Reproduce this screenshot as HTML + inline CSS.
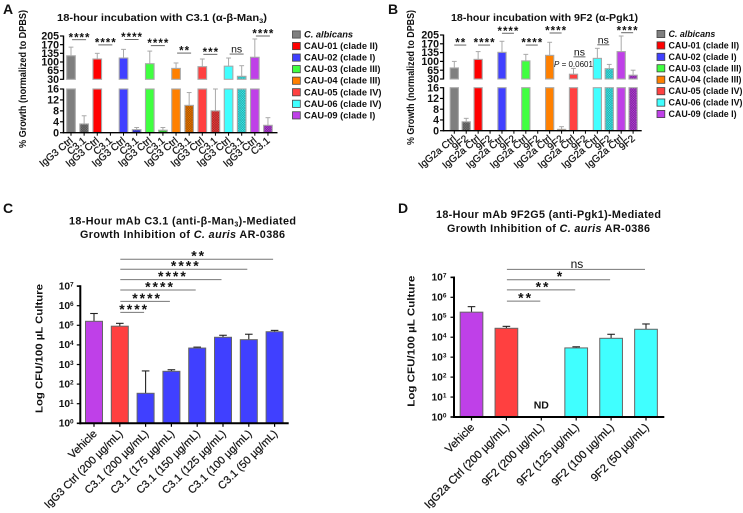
<!DOCTYPE html>
<html lang="en">
<head>
<meta charset="utf-8">
<title>Growth inhibition of C. auris by monoclonal antibodies</title>
<style>
html,body{margin:0;padding:0;background:#fff;}
#figure{display:block;width:743px;height:513px;filter:blur(0.35px);font-family:"Liberation Sans",sans-serif;}
text{font-family:"Liberation Sans",sans-serif;fill:#111;}
</style>
</head>
<body>
<svg id="figure" xmlns="http://www.w3.org/2000/svg" width="743" height="513" viewBox="0 0 743 513">
  <defs id="defs"></defs>
  <text x="3" y="14" font-size="14" font-weight="bold">A</text>
  <text x="388" y="14" font-size="14" font-weight="bold">B</text>
  <text x="3" y="213" font-size="14" font-weight="bold">C</text>
  <text x="398" y="213" font-size="14" font-weight="bold">D</text>

  <text x="57" y="21" font-size="9.8" font-weight="bold" textLength="210" lengthAdjust="spacingAndGlyphs">18-hour incubation with C3.1 (α-β-Man<tspan font-size="6.5" dy="2">3</tspan><tspan dy="-2">)</tspan></text>
  <text x="451" y="21" font-size="9.8" font-weight="bold" textLength="187" lengthAdjust="spacingAndGlyphs">18-hour incubation with 9F2 (α-Pgk1)</text>

  <text x="69" y="224.5" font-size="10.8" font-weight="bold" textLength="227" lengthAdjust="spacing">18-Hour mAb C3.1 (anti-β-Man<tspan font-size="7" dy="2">3</tspan><tspan dy="-2">)-Mediated</tspan></text>
  <text x="80" y="238" font-size="10.8" font-weight="bold" textLength="205" lengthAdjust="spacing">Growth Inhibition of <tspan font-style="italic">C. auris</tspan> AR-0386</text>
  <text x="436" y="218" font-size="10.8" font-weight="bold" textLength="225" lengthAdjust="spacing">18-Hour mAb 9F2G5 (anti-Pgk1)-Mediated</text>
  <text x="447" y="232" font-size="10.8" font-weight="bold" textLength="203" lengthAdjust="spacing">Growth Inhibition of <tspan font-style="italic">C. auris</tspan> AR-0386</text>

  <text transform="translate(26,148) rotate(-90)" font-size="10.5" textLength="138" lengthAdjust="spacingAndGlyphs" font-weight="bold" fill="#333">% Growth (normalized to DPBS)</text>
  <text transform="translate(414,145) rotate(-90)" font-size="10.5" textLength="135" lengthAdjust="spacingAndGlyphs" font-weight="bold" fill="#333">% Growth (normalized to DPBS)</text>
  <text transform="translate(42.5,413) rotate(-90)" font-size="10.5" textLength="129" lengthAdjust="spacingAndGlyphs" font-weight="bold">Log CFU/100 µL Culture</text>
  <text transform="translate(414.5,406.7) rotate(-90)" font-size="10.5" textLength="131" lengthAdjust="spacingAndGlyphs" font-weight="bold">Log CFU/100 µL Culture</text>

  <text x="554" y="67" font-size="8" fill="#222"><tspan font-style="italic">P</tspan> = 0.0601</text>
  <text x="541.3" y="408.5" font-size="10.5" font-weight="bold" text-anchor="middle">ND</text>
</svg>

<script>
/* ---------- data ---------- */
const strainNames = ['C. albicans','CAU-01 (clade II)','CAU-02 (clade I)','CAU-03 (clade III)','CAU-04 (clade III)','CAU-05 (clade IV)','CAU-06 (clade IV)','CAU-09 (clade I)'];
const strainColors = ['#7f7f7f','#ff0000','#4040ff','#40ff40','#ff8000','#ff4040','#40ffff','#bf40e8'];

const brokenTicksUpper = [30,65,100,135,170,205];
const brokenTicksLower = [0,4,8,12,16];

const ctrlLabelA = 'IgG3 Ctrl';
const mabLabelA = 'C3.1';
const ctrlValuesA = [125,112,116,93,74,81,83,119];
const ctrlErrTopA = [160,135,151,144,96,112,116,193];
const mabValuesA = [3.2,0,1.1,0.9,10,8,42,2.7];
const mabErrTopA = [6.2,0,1.9,1.9,14.7,16,85,5.5];
const sigLabelsA = ['****','****','****','****','**','***','ns','****'];
const sigLevelsA = [190,169,191,166,136,131,132,205];

const ctrlLabelB = 'IgG2a Ctrl';
const mabLabelB = '9F2';
const ctrlValuesB = [74,108,136,102,124,49,112,139];
const ctrlErrTopB = [100,139,180,128,176,72,152,201];
const mabValuesB = [3.3,0,0,0,0.5,0,71,45];
const mabErrTopB = [4.6,0,0,0,1.5,0,88,65];
const sigLabelsB = ['**','****','****','****','****','ns','ns','****'];
const sigLevelsB = [165,165,212,165,213,118,166,214];

const logTicks = [0,1,2,3,4,5,6,7];

const categoriesC = ['Vehicle','IgG3 Ctrl (200 µg/mL)','C3.1 (200 µg/mL)','C3.1 (175 µg/mL)','C3.1 (150 µg/mL)','C3.1 (125 µg/mL)','C3.1 (100 µg/mL)','C3.1 (50 µg/mL)'];
const colorIndexC = [7,5,2,2,2,2,2,2];
const valuesC = [160000,90000,34,450,6900,24500,18500,47000];
const errTopC = [400000,126000,470,540,7700,31000,35000,55000];
const sigLabelsC = ['****','****','****','****','****','**'];
const sigLevelsC = [5.66,6.22,6.8,7.33,7.86,8.37];

const categoriesD = ['Vehicle','IgG2a Ctrl (200 µg/mL)','9F2 (200 µg/mL)','9F2 (125 µg/mL)','9F2 (100 µg/mL)','9F2 (50 µg/mL)'];
const colorIndexD = [7,5,6,6,6,6];
const valuesD = [180000,28000,null,2900,8800,25000];
const errTopD = [340000,35000,null,3300,14000,46000];
const sigLabelsD = ['**','**','*','ns'];
const sigLevelsD = [5.81,6.37,6.88,7.4];

/* ---------- helpers ---------- */
const SVGNS = 'http://www.w3.org/2000/svg';
const svg = document.getElementById('figure');
const defs = document.getElementById('defs');

function slug(s){ return String(s).toLowerCase().replace(/[^a-z0-9]+/g,'-').replace(/^-|-$/g,''); }

function make(tag, parent, attrs, name){
  const el = document.createElementNS(SVGNS, tag);
  
  
  for (const k in attrs) el.setAttribute(k, attrs[k]);
  parent.appendChild(el);
  return el;
}
function line(parent, x1, y1, x2, y2, stroke, w, name){
  return make('line', parent, {x1:x1,y1:y1,x2:x2,y2:y2,stroke:stroke,'stroke-width':w}, name);
}
function label(parent, str, attrs, name){
  const t = make('text', parent, attrs, name);
  t.textContent = str;
  return t;
}
function hatch(color, i){
  const p = document.createElementNS(SVGNS,'pattern');
  p.setAttribute('id','hatch-'+i);
  p.setAttribute('width','2.4');
  p.setAttribute('height','2.4');
  p.setAttribute('patternUnits','userSpaceOnUse');
  p.innerHTML = '<rect width="2.4" height="2.4" fill="'+color+'"/><path d="M0 0L2.4 2.4M2.4 0L0 2.4" stroke="#000" stroke-opacity=".42" stroke-width=".55"/>';
  defs.appendChild(p);
}
strainColors.forEach(hatch);

function stars(parent, str, cx, lineY, size, spacing, gap, nameBase){
  if (str === 'ns') {
    return label(parent, 'ns', {x:cx,y:lineY-1.5,'font-size':size,'text-anchor':'middle',fill:'#333'}, nameBase+'-ns');
  }
  /* asterisk glyph centre sits about .46em above baseline in this face */
  return label(parent, str, {x:cx+spacing/2,y:lineY-gap+size*0.46,'font-size':size,'font-weight':'bold','text-anchor':'middle','letter-spacing':spacing,fill:'#333'}, nameBase+'-stars');
}

/* ---------- broken-axis panels A and B ---------- */
function drawBroken(p){
  const g = make('g', svg, {}, p.id+'-chart');
  const yVal = v => v > 16
    ? p.upBot - (v-30)*(p.upBot-p.upTop)/175
    : p.lowBot - v*(p.lowBot-p.lowTop)/16;
  const xOf = i => p.x0 + i*p.step;

  const drawBar = (i, val, errTop, fill, strokeCol, nm) => {
    const x = xOf(i)-p.barW/2;
    if (val > 16) {
      make('rect', g, {x:x,y:p.lowTop,width:p.barW,height:p.lowBot-p.lowTop,fill:fill,stroke:strokeCol,'stroke-width':1.1}, nm+'-lower');
      make('rect', g, {x:x,y:yVal(val),width:p.barW,height:p.upBot-yVal(val),fill:fill,stroke:strokeCol,'stroke-width':1.1}, nm+'-upper');
    } else if (val > 0) {
      make('rect', g, {x:x,y:yVal(val),width:p.barW,height:p.lowBot-yVal(val),fill:fill,stroke:strokeCol,'stroke-width':1.1}, nm);
    }
    if (errTop > val) {
      const c = xOf(i);
      line(g, c, yVal(val), c, yVal(errTop), '#a9a9a9', 1, nm+'-error-bar');
      line(g, c-2.4, yVal(errTop), c+2.4, yVal(errTop), '#a9a9a9', 1, nm+'-error-cap');
    }
  };

  p.ctrl.forEach((v,k) => {
    drawBar(2*k, v, p.ctrlErr[k], strainColors[k], '#a8a8a8', p.id+'-bar-ctrl-'+k);
    drawBar(2*k+1, p.mab[k], p.mabErr[k], 'url(#hatch-'+k+')', '#a8a8a8', p.id+'-bar-mab-'+k);
  });

  /* axes */
  line(g, p.axisX, p.upTop-.5, p.axisX, p.upBot+.5, '#000', 1.4, p.id+'-y-axis-upper');
  line(g, p.axisX, p.lowTop-.5, p.axisX, p.lowBot+.7, '#000', 1.4, p.id+'-y-axis-lower');
  line(g, p.axisX-.7, p.lowBot, p.axisEnd, p.lowBot, '#000', 1.4, p.id+'-x-axis');
  brokenTicksUpper.concat(brokenTicksLower).forEach((t,n) => {
    const yy = t === 30 ? p.upBot : yVal(t);
    line(g, p.axisX-3.5, yy, p.axisX, yy, '#000', 1.2, p.id+'-y-tick-'+t);
    label(g, t, {x:p.axisX-4.5,y:yy+3.6,'font-size':10.6,'font-weight':'bold','text-anchor':'end',fill:'#222'}, p.id+'-y-tick-label-'+t);
  });

  /* x ticks and rotated labels */
  p.ctrl.forEach((v,k) => {
    [[2*k,p.ctrlLabel],[2*k+1,p.mabLabel]].forEach(pair => {
      const c = xOf(pair[0]);
      line(g, c, p.lowBot, c, p.lowBot+3, '#000', 1, p.id+'-x-tick-'+pair[0]);
      label(g, pair[1], {transform:'translate('+(c+2.5)+','+(p.lowBot+9)+') rotate(-40)','font-size':p.labelSize,stroke:'#222','stroke-width':0.25,'text-anchor':'end',fill:'#222'}, p.id+'-x-label-'+pair[0]);
    });
  });

  /* significance brackets */
  p.sig.forEach((s,k) => {
    const c = (xOf(2*k)+xOf(2*k+1))/2 + p.sigShift;
    const y = yVal(p.sigLevels[k]);
    line(g, c-p.sigHalf, y, c+p.sigHalf, y, '#555', 0.9, p.id+'-significance-line-'+k);
    stars(g, s, c, y, s === 'ns' ? 10.5 : 11.5, 1.0, 3.7, p.id+'-significance-'+k);
  });

  /* legend */
  strainNames.forEach((n,k) => {
    const y = p.legendY + k*p.legendStep;
    make('rect', g, {x:p.legendX,y:y-3.6,width:7.8,height:7.2,fill:strainColors[k],stroke:'#444','stroke-width':0.8}, p.id+'-legend-swatch-'+slug(n));
    const at = {x:p.legendX+11.5,y:y+3,'font-size':p.legendSize,'font-weight':'bold',fill:'#222'};
    if (k === 0) at['font-style'] = 'italic';
    label(g, n, at, p.id+'-legend-entry-'+slug(n));
  });
}

drawBroken({id:'panel-a',x0:71,step:13.13,barW:8.6,axisX:63.5,axisEnd:277.5,upTop:36,upBot:79.3,lowTop:89,lowBot:132.7,
  ctrl:ctrlValuesA,ctrlErr:ctrlErrTopA,mab:mabValuesA,mabErr:mabErrTopA,ctrlLabel:ctrlLabelA,mabLabel:mabLabelA,
  sig:sigLabelsA,sigLevels:sigLevelsA,sigHalf:7,sigShift:1.5,labelSize:10,
  legendX:292.5,legendY:34.5,legendStep:11.55,legendSize:9.3});
drawBroken({id:'panel-b',x0:454.3,step:11.92,barW:8.2,axisX:443.5,axisEnd:641.7,upTop:35,upBot:79,lowTop:87.7,lowBot:130.7,
  ctrl:ctrlValuesB,ctrlErr:ctrlErrTopB,mab:mabValuesB,mabErr:mabErrTopB,ctrlLabel:ctrlLabelB,mabLabel:mabLabelB,
  sig:sigLabelsB,sigLevels:sigLevelsB,sigHalf:6,sigShift:0,labelSize:10,
  legendX:657,legendY:34,legendStep:11.43,legendSize:8.9});

/* ---------- log-axis panels C and D ---------- */
function drawLog(p){
  const g = make('g', svg, {}, p.id+'-chart');
  const yVal = v => p.y0 - Math.log10(v)*p.decade;
  const yLog = l => p.y0 - l*p.decade;
  const xOf = i => p.x0 + i*p.step;

  p.values.forEach((v,i) => {
    if (v === null) return;
    const x = xOf(i)-p.barW/2;
    const nm = p.id+'-bar-'+slug(p.cats[i]);
    const e = yVal(p.err[i]);
    line(g, xOf(i), yVal(v), xOf(i), e, '#222', 1.1, nm+'-error-bar');
    line(g, xOf(i)-3.8, e, xOf(i)+3.8, e, '#222', 1.1, nm+'-error-cap');
    make('rect', g, {x:x,y:yVal(v),width:p.barW,height:p.y0-yVal(v),fill:strainColors[p.colors[i]],stroke:'#666','stroke-width':1}, nm);
  });

  line(g, p.axisX, yLog(7)-.8, p.axisX, p.y0+1, '#000', 2, p.id+'-y-axis');
  line(g, p.axisX-1, p.y0, p.axisEnd, p.y0, '#000', 2, p.id+'-x-axis');

  logTicks.forEach(t => {
    const y = yLog(t);
    line(g, p.axisX-3.5, y, p.axisX, y, '#000', t === 7 || t === 0 ? 1.6 : 1.2, p.id+'-y-tick-'+t);
    const txt = make('text', g, {x:p.labelX,y:y+3.3,'font-size':10.2,'font-weight':'bold',fill:'#111'}, p.id+'-y-tick-label-'+t);
    txt.textContent = '10';
    const sup = make('tspan', txt, {'font-size':6.5,dy:-3}, p.id+'-y-tick-exponent-'+t);
    sup.textContent = t;
  });

  p.cats.forEach((c,i) => {
    const x = xOf(i);
    line(g, x, p.y0, x, p.y0+3.5, '#000', 1.2, p.id+'-x-tick-'+i);
    label(g, c, {transform:'translate('+(x+3.5)+','+(p.y0+11)+') rotate(-45)','font-size':p.labelSize,stroke:'#222','stroke-width':0.25,'text-anchor':'end',fill:'#222'}, p.id+'-x-label-'+slug(c));
  });

  p.sig.forEach((s,k) => {
    const x1 = xOf(1) + 0.5;
    const x2 = xOf(k+2) - p.sigTrim;
    const y = yLog(p.sigLevels[k]);
    line(g, x1, y, x2, y, '#777', 1, p.id+'-significance-line-'+k);
    stars(g, s, (x1+x2)/2+1, y, s === 'ns' ? 12 : 14, 2, 5, p.id+'-significance-'+k);
  });
}

drawLog({id:'panel-c',x0:94,step:25.8,barW:17,axisX:80.3,axisEnd:288.7,y0:423.3,decade:19.6,labelX:58.7,labelSize:10.9,
  cats:categoriesC,values:valuesC,err:errTopC,colors:colorIndexC,sig:sigLabelsC,sigLevels:sigLevelsC,sigTrim:1.5});
drawLog({id:'panel-d',x0:471.5,step:34.9,barW:22.7,axisX:454,axisEnd:664.3,y0:417,decade:19.95,labelX:431.5,labelSize:11.2,
  cats:categoriesD,values:valuesD,err:errTopD,colors:colorIndexD,sig:sigLabelsD,sigLevels:sigLevelsD,sigTrim:1});
</script>
</body>
</html>
